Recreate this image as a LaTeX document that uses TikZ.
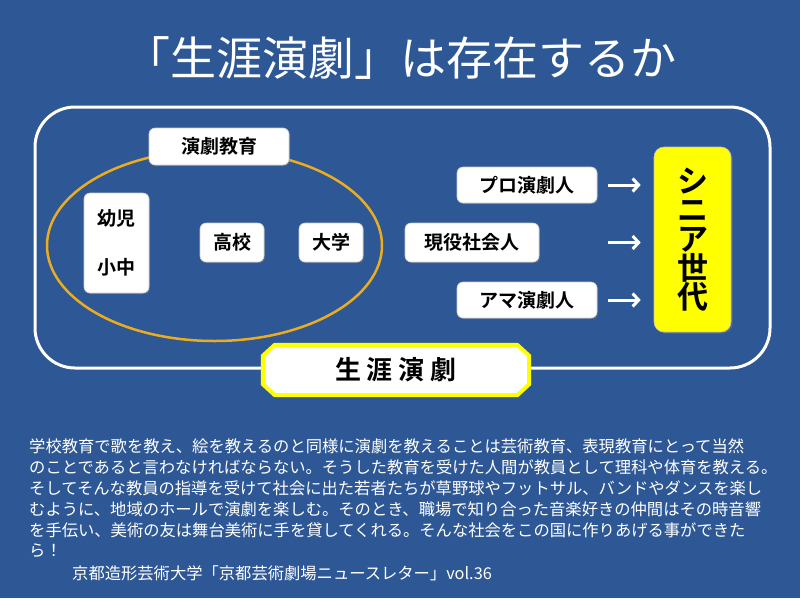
\documentclass[tikz,border=0pt]{standalone}
\usepackage{fontspec}
\newfontfamily\jp{Noto Sans CJK JP}[BoldFont={Noto Sans CJK JP Bold}]
\usetikzlibrary{shapes.geometric,arrows.meta,shadows}
\definecolor{bgblue}{RGB}{46,88,149}
\definecolor{gold}{RGB}{236,172,32}
\definecolor{signyellow}{RGB}{255,255,0}
\tikzset{
  wbox/.style={draw=gray!40, line width=0.6pt, fill=white, rounded corners=6pt, inner sep=0pt,
    font=\jp\bfseries\fontsize{19}{22}\selectfont, text=black,
    drop shadow={opacity=0.35, shadow xshift=1.2pt, shadow yshift=-1.2pt}},
  arr/.style={draw=white, line width=3pt, -{Straight Barb[length=6pt,width=13pt,line width=3pt]},
    shorten <=11pt, shorten >=13pt},
  para/.style={anchor=west, text=white, inner sep=0pt, font=\jp\fontsize{16.3}{20}\selectfont}
}
\begin{document}
\begin{tikzpicture}[x=1pt,y=-1pt]
\fill[bgblue] (0,0) rectangle (800,598);
\useasboundingbox (0,0) rectangle (800,598);

% title
\node[text=white, font=\jp\fontsize{46}{52}\selectfont] (title) at (400,58) {「生涯演劇」は存在するか};

% outer frame
\draw[white, line width=3pt, rounded corners=40pt] (35,107) rectangle (770,368);

% ellipse
\node[draw=gold, line width=2.5pt, ellipse, minimum width=335pt, minimum height=191pt, inner sep=0pt] (ell) at (214.5,245.5) {};

% boxes
\node[wbox, minimum width=140pt, minimum height=37pt] (edu) at (219,146.5) {演劇教育};
\node[wbox, minimum width=65pt, minimum height=100pt, align=center,
      font=\jp\bfseries\fontsize{19}{49}\selectfont] (youji) at (116.5,243) {幼児\\小中};
\node[wbox, minimum width=64pt, minimum height=39pt] (koukou) at (232,242.5) {高校};
\node[wbox, minimum width=64pt, minimum height=39pt] (daigaku) at (331,242.5) {大学};
\node[wbox, minimum width=134pt, minimum height=39pt] (gen) at (472,242.5) {現役社会人};
\node[wbox, minimum width=140pt, minimum height=36pt] (pro) at (527,185) {プロ演劇人};
\node[wbox, minimum width=140pt, minimum height=36pt] (ama) at (527,300) {アマ演劇人};

% senior
\node[fill=signyellow, draw=gray!50, line width=0.6pt, rounded corners=10pt, minimum width=77pt, minimum height=185pt,
      inner sep=0pt, align=center, font=\jp\bfseries\fontsize{31}{29}\selectfont,
      drop shadow={opacity=0.4, shadow xshift=1.5pt, shadow yshift=-1.5pt}] (senior) at (692.5,239.5)
      {シ\\ニ\\ア\\世\\代};

% arrows
\draw[arr] (pro.east) -- (pro.east -| senior.west);
\draw[arr] (gen.east -| pro.east) -- (gen.east -| senior.west);
\draw[arr] (ama.east) -- (ama.east -| senior.west);

% lifelong theatre
\node[rectangle, minimum width=266pt, minimum height=50pt, inner sep=0pt,
      font=\jp\bfseries\fontsize{26}{30}\selectfont] (shougai) at (396,370) {};
\filldraw[fill=white, draw=signyellow, line width=4pt, line join=miter]
  ([xshift=12pt]shougai.north west) -- ([xshift=-12pt]shougai.north east)
  -- ([yshift=-11pt]shougai.north east) -- ([yshift=11pt]shougai.south east)
  -- ([xshift=-12pt]shougai.south east) -- ([xshift=12pt]shougai.south west)
  -- ([yshift=11pt]shougai.south west) -- ([yshift=-11pt]shougai.north west) -- cycle;
\node[font=\jp\bfseries\fontsize{26}{30}\selectfont, inner sep=0pt] (shougaitext) at (shougai.center)
      {生\hspace{6pt}涯\hspace{6pt}演\hspace{6pt}劇};

% paragraph
\node[para] (l1) at (29,446) {学校教育で歌を教え、絵を教えるのと同様に演劇を教えることは芸術教育、表現教育にとって当然};
\node[para] (l2) at (29,467) {のことであると言わなければならない。そうした教育を受けた人間が教員として理科や体育を教える。};
\node[para] (l3) at (29,488) {そしてそんな教員の指導を受けて社会に出た若者たちが草野球やフットサル、バンドやダンスを楽し};
\node[para] (l4) at (29,509) {むように、地域のホールで演劇を楽しむ。そのとき、職場で知り合った音楽好きの仲間はその時音響};
\node[para] (l5) at (29,530) {を手伝い、美術の友は舞台美術に手を貸してくれる。そんな社会をこの国に作りあげる事ができた};
\node[para] (l6) at (29,551) {ら！};
\node[para] (l7) at (72,573) {京都造形芸術大学「京都芸術劇場ニュースレター」vol.36};
\end{tikzpicture}
\end{document}
